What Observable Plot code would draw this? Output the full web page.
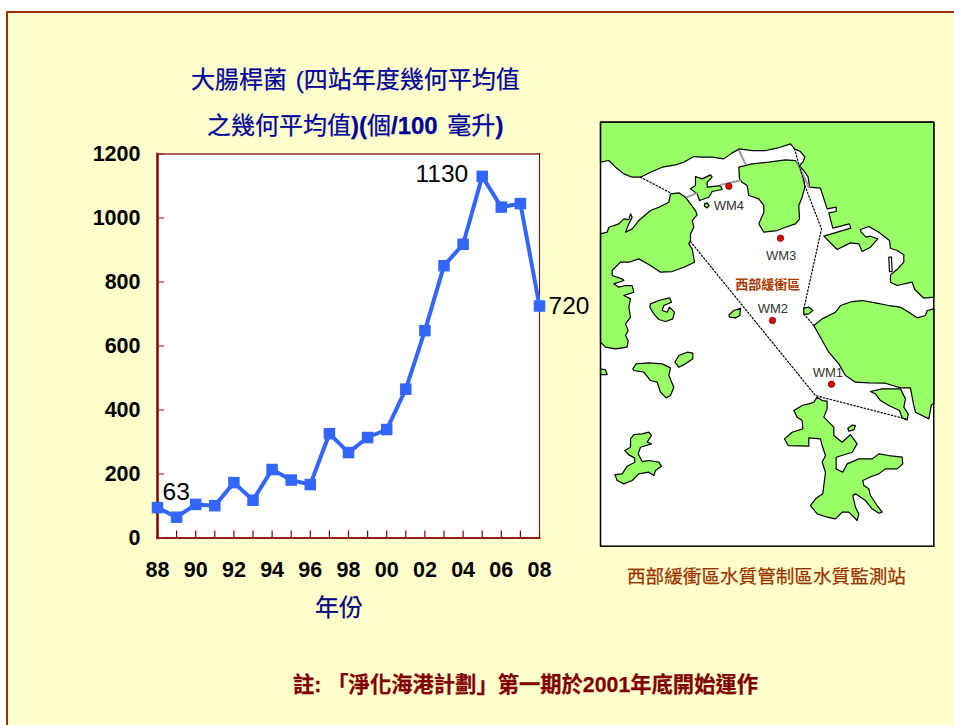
<!DOCTYPE html>
<html lang="zh-Hant"><head><meta charset="utf-8">
<script src="https://cdn.jsdelivr.net/npm/d3@7"></script>
<script src="https://cdn.jsdelivr.net/npm/@observablehq/plot@0.6"></script>
<style>
html,body{margin:0;padding:0;background:#fff}
#page{position:relative;width:954px;height:725px;overflow:hidden;background:#fff}
#bg{position:absolute;left:8px;top:13px;width:946px;height:712px;background:#FFFFCC}
.bl{position:absolute;background:#993300}
.t{position:absolute;white-space:nowrap;font-family:"Liberation Sans","Noto Sans CJK TC",sans-serif;line-height:1;-webkit-text-stroke:0.25px currentColor}
.t b{font-weight:700}
#chart,#map{position:absolute}
#chart svg,#map svg{display:block;overflow:visible;max-width:none}
</style></head><body>
<div id="page">
<div id="bg"></div>
<div class="bl" style="left:6px;top:11px;width:2px;height:714px"></div>
<div class="bl" style="left:6px;top:11px;width:948px;height:2px"></div>
<div id="chart" style="left:80px;top:140px"></div>
<div id="map" style="left:595px;top:117px"></div>
<div class="t" style="left:191px;top:68px;font-size:24px;word-spacing:2px;color:#000099">大腸桿菌 (四站年度幾何平均值</div>
<div class="t" style="left:207px;top:114px;font-size:24px;word-spacing:3px;color:#000099">之幾何平均值<b>)(</b>個<b>/100</b> 毫升<b>)</b></div>
<div class="t" style="left:315px;top:596px;font-size:24px;color:#000080">年份</div>
<div class="t" style="left:627px;top:568px;font-size:18.6px;color:#993300">西部緩衝區水質管制區水質監測站</div>
<div class="t" style="left:293px;top:675px;font-size:21.3px;font-weight:700;color:#800000">註: 「淨化海港計劃」第一期於2001年底開始運作</div>
</div>
<script>
// --- chart data ---
const years = d3.range(88, 109);
const ecoli = [95,65,105,101,173,118,214,181,167,326,267,314,339,465,648,851,918,1130,1034,1045,725];
const yTicks = [0,200,400,600,800,1000,1200];
const xLabelYears = [88,90,92,94,96,98,100,102,104,106,108];
const xFmt = d => String(d % 100).padStart(2,"0");
const callouts = [
  {year:89, value:65, label:"63", dx:-14, dy:-25, anchor:"start"},
  {year:105, value:1130, label:"1130", dx:-14, dy:-2, anchor:"end"},
  {year:108, value:725, label:"720", dx:9, dy:0, anchor:"start"}
];
const series = years.map((y,i)=>({year:y,value:ecoli[i]}));
const sans = '"Liberation Sans",Arial,sans-serif';

const chart = Plot.plot({
  width:520,height:450,marginLeft:77,marginRight:61,marginTop:13.5,marginBottom:52.5,
  style:{background:"transparent",overflow:"visible"},
  x:{domain:[88,108],axis:null},
  y:{domain:[0,1200],axis:null},
  marks:[
    Plot.frame({fill:"white",stroke:"none"}),
    Plot.frame({anchor:"top",stroke:"#B06060",strokeWidth:2}),
    Plot.frame({anchor:"right",stroke:"#800000",strokeWidth:1}),
    Plot.frame({anchor:"bottom",stroke:"#902020",strokeWidth:2}),
    Plot.frame({anchor:"left",stroke:"#800000",strokeWidth:2.5}),
    Plot.tickY(yTicks,{y:d=>d,stroke:"#A03030",strokeWidth:1.2,insetRight:375}),
    Plot.tickX(years,{x:d=>d,stroke:"#800000",strokeWidth:1.2,insetTop:377}),
    Plot.axisY({ticks:yTicks,tickFormat:d=>String(d),tickSize:0,tickPadding:17,label:null,fontSize:21.5,fontWeight:700,fontFamily:sans,fill:"black"}),
    Plot.axisX({ticks:xLabelYears,tickFormat:xFmt,tickSize:0,tickPadding:24,label:null,fontSize:21.5,fontWeight:700,fontFamily:sans,fill:"black"}),
    Plot.line(series,{x:"year",y:"value",stroke:"#3366FF",strokeWidth:4}),
    Plot.dot(series,{x:"year",y:"value",symbol:"square",r:6.5,fill:"#3366FF",stroke:"none"}),
    ...callouts.map(c=>Plot.text([c],{x:"year",y:"value",text:"label",dx:c.dx,dy:c.dy,textAnchor:c.anchor,fontSize:24.5,fontFamily:sans,fill:"black"}))
  ]
});
document.getElementById("chart").append(chart);

// --- map data (map units) ---
const northLand = [[15,140],[40,135],[60,155],[85,175],[110,185],[135,185],[165,170],[200,155],[240,148],[265,140],[295,123],[320,125],[350,125],[385,130],[410,112],[432,100],[470,105],[510,105],[545,98],[585,85],[597,100],[615,108],[628,125],[622,140],[612,150],[625,165],[638,185],[642,215],[675,218],[695,280],[722,275],[722,288],[700,292],[712,338],[762,325],[766,338],[685,362],[725,402],[765,382],[790,385],[800,408],[825,395],[847,370],[825,362],[812,365],[797,350],[795,342],[820,333],[850,350],[882,375],[885,398],[905,405],[925,418],[925,440],[905,462],[885,478],[885,500],[905,510],[950,500],[958,522],[985,548],[1015,545],[1015,20],[15,20]];
const westLand = [[15,355],[35,350],[40,335],[70,325],[85,310],[100,312],[105,295],[110,305],[100,325],[90,350],[110,340],[130,315],[165,285],[190,275],[220,260],[225,235],[250,232],[270,245],[285,265],[300,285],[305,298],[290,315],[295,335],[285,355],[285,375],[280,385],[290,400],[297,440],[265,455],[230,468],[195,470],[165,450],[130,430],[100,440],[75,440],[50,465],[50,480],[80,490],[85,495],[55,505],[70,515],[90,510],[110,510],[115,530],[100,535],[85,540],[105,550],[100,575],[105,605],[90,625],[98,645],[90,660],[98,675],[95,695],[60,700],[30,695],[15,680]];
const tsingYi = [[430,155],[470,145],[520,140],[570,133],[600,135],[610,150],[625,190],[628,215],[620,245],[610,270],[612,310],[600,325],[570,335],[545,345],[505,350],[490,325],[505,290],[505,270],[490,250],[460,240],[455,210],[440,200],[432,190]];
const wm4Island = [[300,183],[320,190],[345,178],[350,185],[335,200],[335,215],[375,210],[380,222],[350,228],[340,245],[312,255],[305,235],[285,220],[300,210]];
const wm4Islet = [[327,265],[335,262],[341,270],[335,277],[327,272]];
const midIsland = [[165,565],[190,555],[222,547],[228,560],[205,570],[200,585],[215,590],[222,575],[237,590],[232,610],[210,618],[190,612],[175,595],[163,575]];
const wm2Islet = [[400,598],[415,585],[435,578],[433,600],[420,607],[403,605]];
const eastIslet = [[625,578],[640,575],[652,585],[640,595],[625,597]];
const hkIsland = [[655,630],[680,610],[720,590],[735,570],[770,558],[800,555],[840,562],[880,570],[915,575],[940,590],[965,607],[990,600],[995,585],[1015,580],[1015,865],[1008,867],[1000,910],[960,890],[955,870],[950,845],[945,817],[915,817],[870,803],[820,802],[780,800],[750,780],[730,745],[700,710],[680,675]];
const greenIsland = [[825,828],[860,820],[915,820],[930,850],[925,875],[938,895],[935,913],[920,907],[912,885],[880,870],[855,855],[840,835]];
const pengChau = [[238,740],[250,720],[275,710],[292,713],[292,730],[270,745],[250,755]];
const peelIsland = [[112,760],[122,745],[160,742],[200,745],[225,757],[220,780],[235,815],[225,840],[212,847],[195,830],[185,800],[165,795],[145,770],[115,765]];
const edgeIslet = [[15,760],[30,763],[35,777],[15,777]];
const cheungChau = [[105,970],[115,957],[140,955],[160,950],[168,960],[155,980],[168,985],[135,995],[128,1015],[140,1038],[160,1035],[190,1040],[198,1052],[180,1065],[175,1080],[160,1070],[130,1075],[110,1095],[85,1105],[65,1095],[58,1077],[80,1075],[95,1052],[118,1040],[117,1027],[100,1018],[88,1005],[105,995]];
const lamma = [[665,845],[680,855],[695,857],[695,880],[685,905],[715,935],[715,960],[740,980],[765,957],[785,985],[770,1010],[722,1025],[722,1060],[742,1070],[755,1045],[790,1030],[830,1030],[850,1015],[880,1020],[920,1025],[922,1045],[905,1060],[870,1060],[850,1075],[830,1082],[802,1095],[805,1110],[820,1120],[825,1140],[845,1170],[860,1190],[850,1193],[830,1180],[810,1155],[780,1135],[772,1140],[780,1175],[790,1195],[785,1215],[760,1190],[740,1190],[720,1210],[695,1205],[665,1195],[645,1170],[660,1150],[682,1135],[690,1070],[680,1040],[690,1020],[680,990],[675,970],[640,967],[640,992],[578,990],[567,970],[590,950],[622,940],[620,915],[605,905],[595,885],[620,870],[640,865],[655,860]];
const lammaIslet = [[757,938],[770,929],[780,930],[775,943],[760,947]];
const slit = [[880,425],[888,425],[890,468],[882,468]];
const lands = {northLand,westLand,tsingYi,wm4Island,wm4Islet,midIsland,wm2Islet,eastIslet,hkIsland,greenIsland,pengChau,peelIsland,edgeIslet,cheungChau,lamma,lammaIslet,slit};
const boundaryA = [[135,185],[225,232]];
const boundaryB = [[285,378],[660,840],[930,910]];
const boundaryC = [[597,100],[630,215],[678,340],[625,580]];
const boundaryD = [[625,595],[655,630]];
const bridgeA = [[430,105],[450,145]];
const bridgeB = [[275,245],[305,232]];
const bridgeC = [[375,208],[435,195]];
const bridgeD = [[605,140],[640,215]];
const stations = [{n:"WM4",u:400,v:212,lu:400,lv:270},{n:"WM3",u:555,v:368,lu:557,lv:420},{n:"WM2",u:531,v:615,lu:532,lv:580},{n:"WM1",u:708,v:806,lu:697,lv:773}];
const zoneLabel = [{t:"西部緩衝區",u:517,v:508}];

const toRows = (o)=>Object.entries(o).flatMap(([k,p])=>p.map(([u,v])=>({k,u,v})));
const map = Plot.plot({
  width:345,height:435,marginLeft:5,marginRight:6.7,marginTop:4.7,marginBottom:6.3,
  style:{background:"transparent",overflow:"visible"},
  x:{domain:[15,1015],axis:null},
  y:{domain:[20,1292],range:[4.7,428.7],axis:null},
  marks:[
    Plot.frame({fill:"white",stroke:"none"}),
    Plot.line(toRows(lands),{x:"u",y:"v",z:"k",fill:d=>d.k==="slit"?"#ffffff":"#99FF66",stroke:"black",strokeWidth:1.2,curve:"linear-closed"}),
    Plot.line(toRows({bridgeA,bridgeB,bridgeC,bridgeD}),{x:"u",y:"v",z:"k",stroke:"#999",strokeWidth:2}),
    Plot.line(toRows({boundaryA,boundaryB,boundaryC,boundaryD}),{x:"u",y:"v",z:"k",stroke:"#000",strokeWidth:1.2,strokeDasharray:"1.5,2"}),
    Plot.dot(stations,{x:"u",y:"v",r:3.2,fill:"#EE0000",stroke:"#400000",strokeWidth:0.7}),
    Plot.text(stations,{x:"lu",y:"lv",text:"n",fontSize:13,fontFamily:sans,fill:"#333"}),
    Plot.text(zoneLabel,{x:"u",y:"v",text:"t",fontSize:13,fontWeight:700,fontFamily:'"Noto Sans CJK TC",sans-serif',fill:"#A83C00"}),
    Plot.frame({stroke:"black",strokeWidth:1.5})
  ]
});
document.getElementById("map").append(map);
</script>
</body></html>
